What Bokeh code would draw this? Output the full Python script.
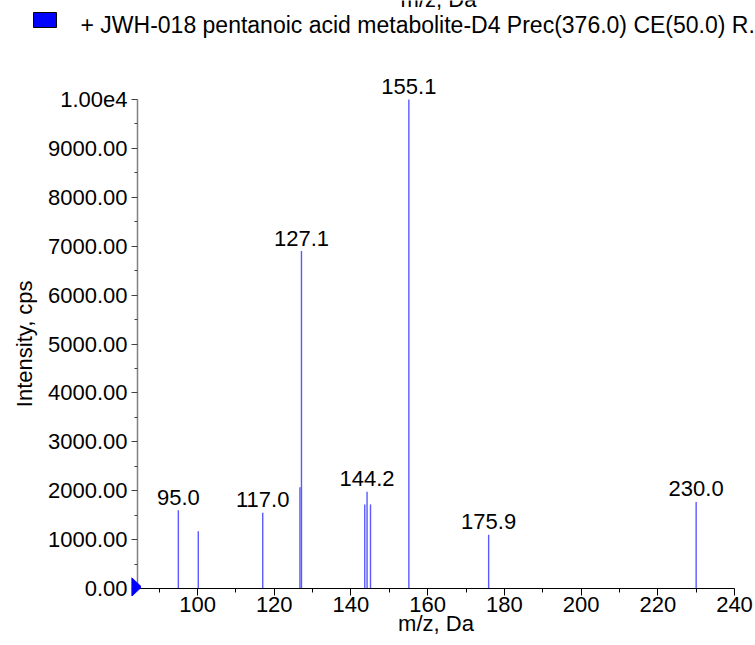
from bokeh.plotting import figure
from bokeh.layouts import column
from bokeh.models import Range1d, FixedTicker, ColumnDataSource
from bokeh.core.properties import value
from bokeh.embed import file_html
from bokeh.resources import INLINE

# ---- data ----
mz = [95.0, 100.2, 117.0, 126.7, 127.1, 143.6, 144.2, 145.1, 155.1, 175.9, 230.0]
intensity = [1600, 1170, 1550, 2070, 6900, 1720, 1980, 1720, 10000, 1100, 1770]
label_mz = [95.0, 117.0, 127.1, 144.2, 155.1, 175.9, 230.0]
label_intensity = [1600, 1550, 6900, 1980, 10000, 1100, 1770]
y_ticks = [0, 1000, 2000, 3000, 4000, 5000, 6000, 7000, 8000, 9000, 10000]
y_tick_labels = ["0.00", "1000.00", "2000.00", "3000.00", "4000.00", "5000.00",
                 "6000.00", "7000.00", "8000.00", "9000.00", "1.00e4"]
x_ticks = [100, 120, 140, 160, 180, 200, 220, 240]
x_minor_ticks = [90, 110, 130, 150, 170, 190, 210, 230]
legend_text = "+ JWH-018 pentanoic acid metabolite-D4 Prec(376.0) CE(50.0) R."
x_title = "m/z, Da"
y_title = "Intensity, cps"

FONT = "Liberation Sans"
W = 755
TXT_SHIFT = 8  # svg text glyphs sit this many px lower than the canvas baseline

# ---------------- legend strip (top) ----------------
LH = 44
leg = figure(width=W, height=LH, x_range=Range1d(0, W), y_range=Range1d(LH, 0),
             output_backend="svg", toolbar_location=None, frame_align=False,
             x_axis_location=None, y_axis_location=None,
             min_border_left=0, min_border_right=0, min_border_top=0, min_border_bottom=0)
leg.outline_line_color = None
leg.grid.visible = False
# bottom of the previous panel's x title, cut by the top edge as in the reference
leg.text(x=[438], y=[0], text=[x_title], text_align="center", y_offset=-1,
         text_baseline="alphabetic", text_color="black",
         text_font=value(FONT), text_font_size="22px")
leg.quad(left=[33], right=[56], top=[12], bottom=[27],
         fill_color="#0000ff", line_color="black", line_width=1)
leg.text(x=[80], y=[32 - TXT_SHIFT], text=[legend_text], text_align="left",
         text_baseline="alphabetic", text_color="black",
         text_font=value(FONT), text_font_size="23px")

# ---------------- main spectrum ----------------
H = 645 - LH
ML, MR, MT, MB = 137, 21, 24, 57
FH = H - MT - MB
X0, X1 = 84.35, 240.0
Y1 = 10000.0 * FH / 489.0

p = figure(width=W, height=H, x_range=Range1d(X0, X1), y_range=Range1d(0, Y1),
           output_backend="svg", toolbar_location=None, frame_align=False,
           min_border_left=ML, min_border_right=MR, min_border_top=MT, min_border_bottom=MB)
p.outline_line_color = None
p.grid.visible = False

src = ColumnDataSource(dict(mz=mz, intensity=intensity, base=[0] * len(mz)))
p.segment(x0="mz", y0="base", x1="mz", y1="intensity", source=src,
          line_color="#5a5aff", line_width=1.4)

lsrc = ColumnDataSource(dict(x=label_mz, y=label_intensity,
                             t=["%.1f" % m for m in label_mz]))
p.text(x="x", y="y", text="t", source=lsrc, text_align="center",
       text_baseline="alphabetic", y_offset=-5 - TXT_SHIFT, text_color="black",
       text_font=value(FONT), text_font_size="22px")

# y axis
ya = p.yaxis[0]
ya.ticker = FixedTicker(ticks=y_ticks, minor_ticks=[t + 500 for t in y_ticks[:-1]])
ya.major_label_overrides = {t: l for t, l in zip(y_ticks, y_tick_labels)}
ya.bounds = (0, 10000)
ya.axis_line_color = "#808080"
ya.axis_line_width = 1.5
ya.major_tick_out = 6
ya.major_tick_in = 0
ya.minor_tick_out = 3
ya.minor_tick_in = 0
ya.major_tick_line_color = "#404040"
ya.minor_tick_line_color = "#404040"
ya.major_label_standoff = 4
ya.major_label_text_font = FONT
ya.major_label_text_font_size = "22px"
ya.major_label_text_color = "black"
# label is centred on the frame; trailing spaces move it to the centre of the 0..1e4 axis
ya.axis_label = y_title + "\u00a0" * 5
ya.axis_label_standoff = 8
ya.axis_label_text_font = FONT
ya.axis_label_text_font_size = "22px"
ya.axis_label_text_font_style = "normal"
ya.axis_label_text_color = "black"

# x axis
xa = p.xaxis[0]
xa.ticker = FixedTicker(ticks=x_ticks, minor_ticks=x_minor_ticks)
xa.axis_line_color = "black"
xa.axis_line_width = 1
xa.major_tick_out = 7
xa.major_tick_in = 0
xa.minor_tick_out = 4
xa.minor_tick_in = 0
xa.major_tick_line_color = "black"
xa.minor_tick_line_color = "black"
xa.major_label_standoff = 1
xa.major_label_text_font = FONT
xa.major_label_text_font_size = "22px"
xa.major_label_text_color = "black"
xa.axis_label = x_title
xa.axis_label_standoff = -4
xa.axis_label_text_font = FONT
xa.axis_label_text_font_size = "22px"
xa.axis_label_text_font_style = "normal"
xa.axis_label_text_color = "black"

# ---------------- origin marker (blue triangle left of the y axis at 0) ----------------
TW, TH = 10, 19
tri = figure(width=TW, height=TH, x_range=Range1d(0, 1), y_range=Range1d(0, 1),
             output_backend="svg", toolbar_location=None, frame_align=False,
             x_axis_location=None, y_axis_location=None,
             min_border_left=0, min_border_right=0, min_border_top=0, min_border_bottom=0,
             margin=(-(645 - 577), 0, 0, 131))
tri.outline_line_color = None
tri.grid.visible = False
tri.background_fill_color = None
tri.border_fill_color = None
tri.patch(x=[0, 0, 1], y=[0, 1, 0.5], fill_color="#0000ff", line_color="#0000ff")

layout = column(leg, p, tri, spacing=0)
open("out.html", "w").write(file_html(layout, INLINE))
